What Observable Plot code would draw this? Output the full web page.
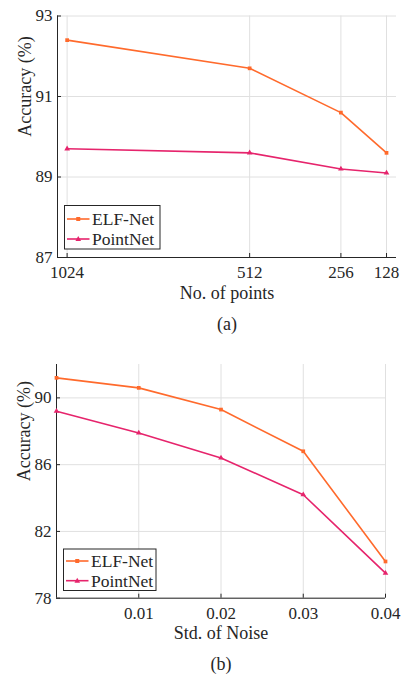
<!DOCTYPE html>
<html><head><meta charset="utf-8">
<script src="https://cdn.jsdelivr.net/npm/d3@7"></script>
<script src="https://cdn.jsdelivr.net/npm/@observablehq/plot@0.6"></script>
<style>
body{margin:0;background:#fff;}
#wrap{position:relative;width:402px;height:674px;}
.panel{position:absolute;left:0;}
#wrap svg, #wrap svg text { font-family: "Liberation Serif", "Times New Roman", serif !important; }
</style></head>
<body><div id="wrap"><div id="a" class="panel" style="top:0"></div><div id="b" class="panel" style="top:340px"></div></div>
<script>
// ---- data ----
const seriesNames = ["ELF-Net", "PointNet"];
const seriesColors = ["#ff6a2c", "#e6246c"];
const seriesSymbols = ["square", "triangle"];

const pointsX = [1024, 512, 256, 128];
const pointsElf = [92.4, 91.7, 90.6, 89.6];
const pointsPointNet = [89.7, 89.6, 89.2, 89.1];
const pointsXTicks = [1024, 512, 256, 128];
const pointsYTicks = [87, 89, 91, 93];
const pointsXDomain = [1051, 100];
const pointsYDomain = [87, 93];

const noiseX = [0, 0.01, 0.02, 0.03, 0.04];
const noiseElf = [91.2, 90.6, 89.3, 86.8, 80.2];
const noisePointNet = [89.2, 87.9, 86.4, 84.2, 79.5];
const noiseXTicks = [0.01, 0.02, 0.03, 0.04];
const noiseYTicks = [78, 82, 86, 90];
const noiseXDomain = [0, 0.04];
const noiseYDomain = [78, 92];

const yLabel = "Accuracy (%)";

// ---- drawing ----
const FONT = '"Liberation Serif", "Times New Roman", serif';
const INK = "#262626";
const GRID = "#e0e0e0";

function panel(cfg) {
  const {xs, elf, pn, xDomain, yDomain, xTicks, yTicks, xFmt, xLabel, caption,
         width, height, m, legend} = cfg;
  const rows = [];
  xs.forEach((x, i) => {
    rows.push({x, y: elf[i], s: seriesNames[0]});
    rows.push({x, y: pn[i], s: seriesNames[1]});
  });
  const innerH = height - m.top - m.bottom;
  const innerW = width - m.left - m.right;
  const chart = Plot.plot({
    width, height,
    marginTop: m.top, marginBottom: m.bottom, marginLeft: m.left, marginRight: m.right,
    style: {fontFamily: FONT, fontSize: "17px", color: INK, background: "transparent", overflow: "visible"},
    x: {domain: xDomain},
    y: {domain: yDomain},
    color: {domain: seriesNames, range: seriesColors},
    symbol: {domain: seriesNames, range: seriesSymbols},
    marks: [
      Plot.gridX(xTicks, {stroke: GRID, strokeOpacity: 1}),
      Plot.gridY(yTicks, {stroke: GRID, strokeOpacity: 1}),
      Plot.ruleX([xDomain[0]], {stroke: INK, strokeWidth: 1}),
      Plot.ruleY([yDomain[0]], {stroke: INK, strokeWidth: 1}),
      Plot.tickX(xTicks, {x: d => d, stroke: INK, insetTop: innerH - 4}),
      Plot.tickY(yTicks, {y: d => d, stroke: INK, insetRight: innerW - 4}),
      Plot.axisX(xTicks, {tickSize: 0, tickPadding: 8.5, tickFormat: xFmt, label: null, fontSize: 17, fill: INK}),
      Plot.axisY(yTicks, {tickSize: 0, tickPadding: 5, label: null, fontSize: 17, fill: INK}),
      Plot.line(rows, {x: "x", y: "y", stroke: "s", z: "s", strokeWidth: 1.6}),
      Plot.dot(rows, {x: "x", y: "y", fill: "s", symbol: "s", r: 2.1, stroke: "none"}),
      Plot.text([xLabel], {frameAnchor: "bottom", dy: 41, text: d => d, fontSize: 18, fill: INK}),
      Plot.text([yLabel], {frameAnchor: "left", rotate: -90, dx: -32, text: d => d, fontSize: 18, fill: INK}),
      Plot.text([caption], {frameAnchor: "bottom", dy: 72, text: d => d, fontSize: 18, fill: INK})
    ]
  });
  // legend box
  const svg = d3.select(chart);
  const g = svg.append("g").attr("text-anchor", "start");
  g.append("rect").attr("x", legend.x).attr("y", legend.y).attr("width", legend.w).attr("height", legend.h)
    .attr("fill", "#fff").attr("stroke", INK).attr("stroke-width", 1);
  seriesNames.forEach((name, i) => {
    const cy = legend.rows[i];
    const x0 = legend.x + 2.5, x1 = legend.x + 25, xm = (x0 + x1) / 2;
    g.append("line").attr("x1", x0).attr("x2", x1).attr("y1", cy).attr("y2", cy)
      .attr("stroke", seriesColors[i]).attr("stroke-width", 1.6);
    if (seriesSymbols[i] === "square") {
      g.append("rect").attr("x", xm - 2).attr("y", cy - 2).attr("width", 4).attr("height", 4).attr("fill", seriesColors[i]);
    } else {
      g.append("path").attr("d", `M${xm},${cy - 3}L${xm + 2.8},${cy + 2}L${xm - 2.8},${cy + 2}Z`).attr("fill", seriesColors[i]);
    }
    g.append("text").attr("x", legend.x + 27.5).attr("y", cy).attr("dy", "0.34em")
      .style("text-anchor", "start")
      .attr("font-family", FONT).attr("font-size", 17.5).attr("fill", INK).text(name);
  });
  return chart;
}

document.getElementById("a").appendChild(panel({
  xs: pointsX, elf: pointsElf, pn: pointsPointNet,
  xDomain: pointsXDomain, yDomain: pointsYDomain,
  xTicks: pointsXTicks, yTicks: pointsYTicks, xFmt: d => String(d),
  xLabel: "No. of points", caption: "(a)",
  width: 402, height: 340,
  m: {top: 15.5, bottom: 83, left: 57, right: 6},
  legend: {x: 64.5, y: 205.5, w: 95.5, h: 43.5, rows: [219, 239]}
}));

document.getElementById("b").appendChild(panel({
  xs: noiseX, elf: noiseElf, pn: noisePointNet,
  xDomain: noiseXDomain, yDomain: noiseYDomain,
  xTicks: noiseXTicks, yTicks: noiseYTicks, xFmt: d3.format(".2f"),
  xLabel: "Std. of Noise", caption: "(b)",
  width: 402, height: 334,
  m: {top: 24, bottom: 76.3, left: 56, right: 17},
  legend: {x: 63.5, y: 209, w: 92.5, h: 41.5, rows: [221, 240.7]}
}));
</script>
</body></html>
